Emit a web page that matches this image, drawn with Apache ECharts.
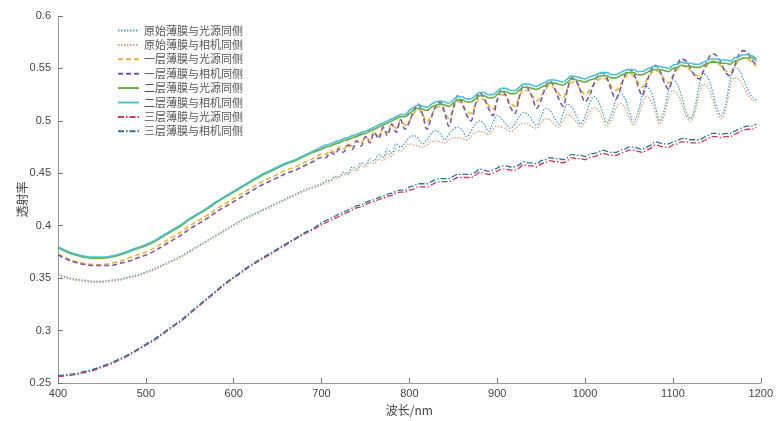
<!DOCTYPE html>
<html><head><meta charset="utf-8">
<script src="https://cdn.jsdelivr.net/npm/echarts@6/dist/echarts.min.js"></script>
<style>html,body{margin:0;padding:0;background:#fff}#c{width:776px;height:421px}</style>
</head><body><div id="c"></div><script>
// Wavelength samples (nm)
const wavelengths = [400,410,420,430,440,450,460,470,480,490,500,510,520,530,540,550,560,570,580,590,600,610,620,630,640,650,660,670,680,690,
700,705,710,715,720,725,730,735,740,745,750,755,760,765,770,775,780,785,790,795,
800,805,810,815,820,825,830,835,840,845,850,855,860,865,870,875,880,885,890,895,
900,905,910,915,920,925,930,935,940,945,950,955,960,965,970,975,980,985,990,995,
1000,1005,1010,1015,1020,1025,1030,1035,1040,1045,1050,1055,1060,1065,1070,1075,1080,1085,1090,1095,
1100,1105,1110,1115,1120,1125,1130,1135,1140,1145,1150,1155,1160,1165,1170,1175,1180,1185,1190,1195];

// 原始薄膜与光源同侧
const rawLight = [.353,.351,.349,.348,.347,.347,.348,.349,.351,.353,.356,.359,.363,.367,.371,.376,.381,.386,.391,.396,.401,.406,.410,.414,.418,.422,.426,.430,.434,.437,
.440,.443,.443,.447,.447,.451,.450,.456,.454,.460,.458,.464,.462,.468,.465,.473,.469,.478,.475,.479,
.484,.486,.483,.478,.482,.488,.491,.488,.482,.487,.492,.494,.491,.485,.490,.497,.500,.497,.490,.498,
.505,.502,.497,.493,.497,.504,.508,.506,.500,.496,.504,.512,.510,.503,.497,.507,.516,.513,.505,.497,
.504,.516,.523,.519,.508,.498,.506,.520,.527,.522,.510,.499,.507,.524,.533,.528,.514,.500,.510,.529,
.539,.535,.523,.509,.502,.513,.534,.545,.541,.528,.513,.505,.516,.539,.551,.549,.540,.530,.523,.520];
// 原始薄膜与相机同侧
const rawCamera = [.352,.350,.348,.347,.346,.346,.347,.348,.350,.352,.355,.358,.362,.366,.370,.375,.380,.385,.390,.395,.400,.405,.409,.413,.417,.421,.425,.429,.433,.436,
.439,.441,.442,.445,.446,.449,.449,.453,.452,.457,.456,.461,.459,.464,.462,.469,.466,.473,.471,.475,
.478,.477,.476,.475,.477,.480,.481,.480,.479,.482,.484,.484,.483,.482,.485,.489,.490,.489,.487,.492,
.495,.494,.492,.490,.492,.496,.498,.497,.494,.493,.498,.502,.501,.497,.494,.500,.506,.504,.499,.494,
.499,.508,.513,.510,.502,.495,.501,.512,.517,.513,.504,.496,.502,.516,.523,.519,.508,.497,.505,.521,
.529,.526,.516,.505,.499,.508,.526,.535,.532,.521,.508,.502,.511,.531,.541,.540,.533,.525,.520,.518];
// 一层薄膜与光源同侧
const oneLight = [.373,.369,.366,.364,.363,.363,.364,.366,.369,.372,.375,.379,.384,.389,.394,.400,.405,.410,.416,.421,.426,.431,.436,.441,.445,.449,.453,.456,.460,.464,
.468,.468,.472,.470,.475,.473,.478,.476,.481,.479,.484,.482,.489,.485,.493,.489,.497,.493,.501,.496,
.500,.507,.511,.506,.499,.506,.512,.514,.509,.502,.512,.519,.516,.510,.507,.515,.522,.520,.515,.511,
.520,.525,.523,.517,.514,.523,.529,.529,.524,.519,.524,.530,.534,.531,.526,.522,.531,.537,.536,.530,
.525,.529,.535,.539,.541,.539,.533,.529,.534,.541,.544,.543,.537,.532,.539,.545,.548,.546,.540,.536,
.543,.549,.553,.551,.548,.544,.543,.548,.554,.557,.556,.552,.548,.546,.552,.557,.560,.559,.556,.552];
// 一层薄膜与相机同侧
const oneCamera = [.372,.368,.365,.363,.362,.362,.362,.364,.366,.369,.372,.376,.381,.386,.391,.397,.402,.407,.413,.418,.423,.428,.433,.438,.442,.446,.450,.453,.457,.461,
.465,.465,.470,.468,.473,.470,.477,.473,.481,.476,.485,.479,.489,.483,.494,.486,.497,.489,.501,.492,
.499,.510,.516,.506,.492,.503,.514,.518,.508,.495,.512,.524,.517,.506,.500,.515,.527,.522,.512,.505,
.520,.529,.524,.513,.507,.522,.533,.531,.522,.512,.520,.532,.538,.532,.521,.514,.530,.541,.538,.528,
.518,.524,.535,.543,.546,.541,.529,.521,.530,.543,.549,.546,.534,.524,.536,.548,.553,.548,.537,.530,
.542,.554,.559,.557,.550,.543,.540,.548,.559,.564,.562,.555,.546,.543,.552,.563,.567,.565,.558,.553];
// 二层薄膜与光源同侧
const twoLight = [.379,.375,.372,.370,.369,.369,.370,.372,.375,.378,.381,.385,.390,.395,.400,.406,.411,.416,.422,.427,.432,.437,.442,.447,.451,.455,.459,.462,.466,.470,
.473,.475,.476,.478,.479,.481,.482,.484,.485,.487,.488,.490,.492,.494,.496,.498,.500,.502,.504,.504,
.507,.510,.512,.511,.510,.513,.515,.516,.515,.514,.517,.520,.520,.518,.518,.521,.524,.524,.522,.522,
.525,.528,.528,.526,.526,.529,.532,.532,.531,.530,.532,.534,.536,.536,.535,.534,.537,.540,.539,.538,
.537,.539,.540,.542,.543,.543,.541,.541,.543,.545,.546,.546,.544,.544,.546,.548,.549,.549,.548,.547,
.550,.551,.553,.552,.552,.551,.551,.553,.555,.556,.556,.555,.555,.554,.557,.558,.560,.560,.560,.557];
// 二层薄膜与相机同侧
const twoCamera = [.380,.376,.373,.371,.370,.370,.371,.373,.376,.379,.382,.386,.391,.396,.401,.407,.412,.417,.423,.428,.433,.438,.443,.448,.452,.456,.460,.463,.467,.471,
.475,.477,.478,.480,.481,.483,.484,.486,.487,.489,.490,.492,.494,.496,.498,.500,.502,.504,.506,.506,
.510,.513,.515,.514,.513,.516,.518,.519,.518,.517,.520,.523,.523,.521,.521,.524,.527,.527,.525,.525,
.528,.531,.531,.529,.529,.532,.535,.535,.534,.533,.535,.537,.539,.539,.538,.537,.540,.543,.542,.541,
.540,.542,.543,.545,.546,.546,.544,.544,.546,.548,.549,.549,.547,.547,.549,.551,.552,.552,.551,.550,
.553,.554,.556,.555,.555,.554,.554,.556,.558,.559,.559,.558,.558,.557,.560,.561,.563,.563,.562,.559];
// 三层薄膜与光源同侧
const threeLight = [.256,.257,.258,.260,.262,.265,.268,.272,.276,.281,.286,.291,.297,.303,.309,.316,.323,.330,.337,.344,.350,.356,.362,.367,.372,.377,.382,.387,.392,.396,
.401,.403,.405,.407,.409,.411,.413,.415,.417,.418,.420,.422,.423,.425,.426,.428,.429,.431,.432,.432,
.434,.435,.437,.437,.437,.439,.441,.442,.442,.442,.444,.446,.446,.446,.446,.448,.451,.450,.449,.450,
.452,.454,.454,.453,.453,.455,.458,.457,.457,.456,.459,.460,.462,.461,.461,.460,.462,.465,.464,.464,
.463,.465,.466,.467,.469,.468,.467,.467,.469,.470,.472,.472,.471,.470,.472,.474,.477,.476,.475,.475,
.477,.478,.480,.480,.479,.479,.479,.481,.483,.485,.485,.484,.485,.485,.487,.489,.491,.492,.492,.494];
// 三层薄膜与相机同侧
const threeCamera = [.257,.258,.259,.261,.263,.266,.269,.273,.277,.282,.287,.292,.298,.304,.310,.317,.324,.331,.338,.345,.351,.357,.363,.368,.373,.378,.383,.388,.393,.397,
.403,.405,.407,.409,.411,.413,.415,.417,.419,.420,.422,.424,.425,.427,.428,.430,.431,.433,.434,.434,
.437,.438,.440,.440,.440,.442,.444,.445,.445,.445,.447,.449,.449,.449,.449,.451,.454,.453,.452,.453,
.455,.457,.457,.456,.456,.458,.461,.460,.460,.459,.462,.463,.465,.464,.464,.463,.465,.468,.467,.467,
.466,.468,.469,.470,.472,.471,.470,.470,.472,.473,.475,.475,.474,.473,.475,.477,.480,.479,.478,.478,
.480,.481,.483,.483,.482,.482,.482,.484,.486,.488,.488,.487,.488,.488,.490,.492,.494,.495,.495,.497];

const seriesNames = ['原始薄膜与光源同侧','原始薄膜与相机同侧','一层薄膜与光源同侧','一层薄膜与相机同侧',
  '二层薄膜与光源同侧','二层薄膜与相机同侧','三层薄膜与光源同侧','三层薄膜与相机同侧'];
const seriesValues = [rawLight, rawCamera, oneLight, oneCamera, twoLight, twoCamera, threeLight, threeCamera];
const yTicks = {min: 0.25, max: 0.6, step: 0.05};
const xTicks = {min: 400, max: 1200, step: 100};

const styles = [
  {color:'#4f9fc8', type:[1.5,1.5], width:1.3},
  {color:'#d9a47c', type:[1.5,1.5], width:1.3},
  {color:'#e8b53a', type:[5,3], width:1.6},
  {color:'#7a5a9e', type:[5,3], width:1.6},
  {color:'#6aaa46', type:'solid', width:1.6},
  {color:'#4cc0d6', type:'solid', width:1.6},
  {color:'#c23b5a', type:[6,2,1.5,2], width:1.3},
  {color:'#2f6f9f', type:[6,2,1.5,2], width:1.3}
];

const chart = echarts.init(document.getElementById('c'), null, {renderer: 'canvas'});
chart.setOption({
  animation: false,
  backgroundColor: '#fff',
  grid: {left: 58, right: 14, top: 16, bottom: 35},
  legend: {
    orient: 'vertical', left: 112, top: 20, itemGap: 3.4, itemWidth: 21, itemHeight: 11,
    itemStyle: {color: 'rgba(0,0,0,0)', borderColor: 'rgba(0,0,0,0)', borderWidth: 0},
    textStyle: {fontSize: 11, color: '#555', fontFamily: 'Noto Sans CJK SC'},
    data: seriesNames
  },
  xAxis: {
    type: 'value', min: xTicks.min, max: xTicks.max, interval: xTicks.step,
    name: '波长/nm', nameLocation: 'middle', nameGap: 21,
    nameTextStyle: {fontSize: 12, color: '#444', fontFamily: 'Noto Sans CJK SC'},
    axisLine: {show: true, lineStyle: {color: '#999', width: 1}},
    axisTick: {show: true, inside: true, length: 5, lineStyle: {color: '#777'}},
    axisLabel: {fontSize: 11, color: '#444', margin: 5, fontFamily: 'Liberation Sans', formatter: v => String(v)},
    splitLine: {show: false}
  },
  yAxis: {
    type: 'value', min: yTicks.min, max: yTicks.max, interval: yTicks.step,
    name: '透射率', nameLocation: 'middle', nameGap: 30, nameRotate: 90, nameMoveOverlap: false,
    nameTextStyle: {fontSize: 12, color: '#444', fontFamily: 'Noto Sans CJK SC'},
    axisLine: {show: true, lineStyle: {color: '#999', width: 1}},
    axisTick: {show: true, inside: true, length: 5, lineStyle: {color: '#777'}},
    axisLabel: {fontSize: 11, color: '#444', margin: 7, fontFamily: 'Liberation Sans'},
    splitLine: {show: false}
  },
  series: seriesNames.map((n, i) => ({
    name: n, type: 'line', symbol: 'none', smooth: 0.35,
    data: wavelengths.map((w, k) => [w, seriesValues[i][k]]),
    lineStyle: {color: styles[i].color, type: styles[i].type, width: styles[i].width},
    itemStyle: {color: styles[i].color},
    z: 2 + i
  }))
});
</script></body></html>
